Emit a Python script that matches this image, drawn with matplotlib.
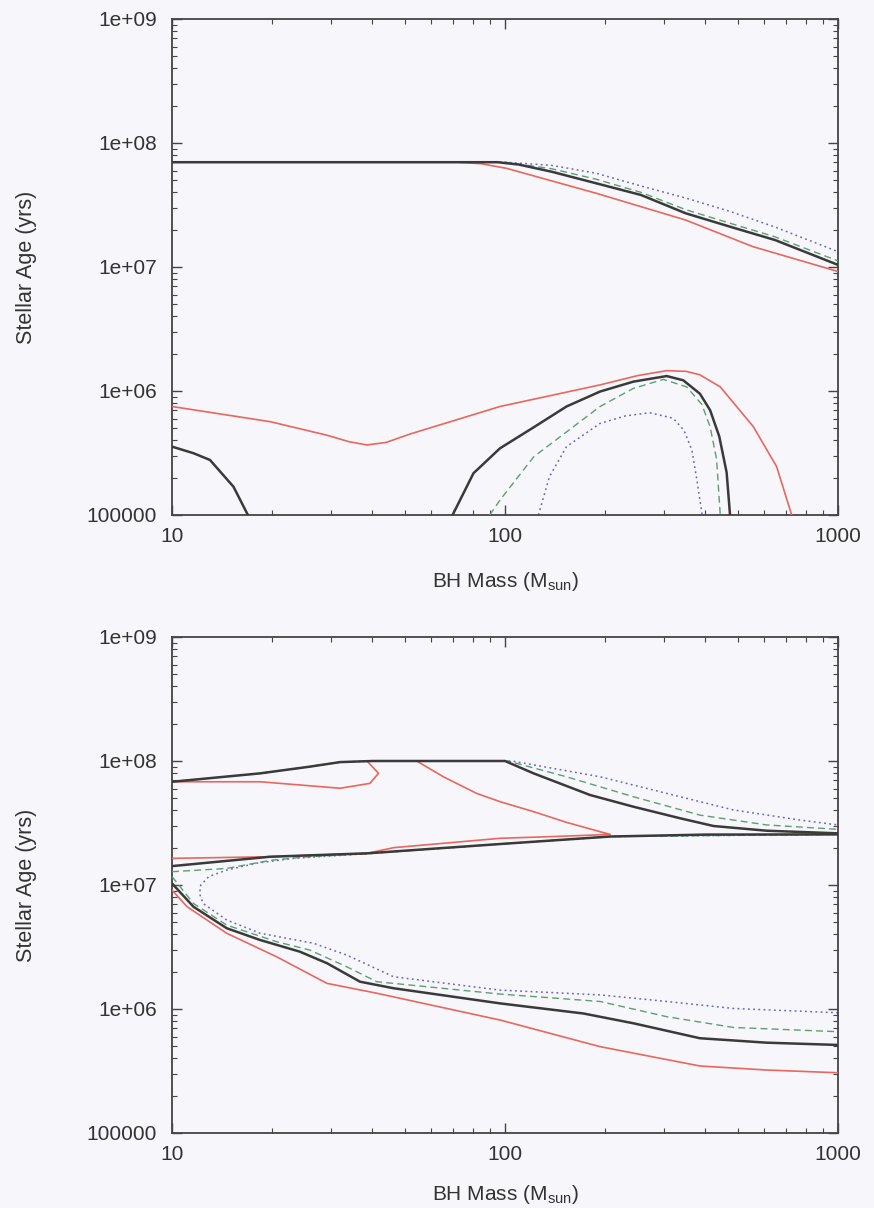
import matplotlib
matplotlib.use("Agg")
import matplotlib.pyplot as plt
from matplotlib.ticker import FixedLocator, FixedFormatter, LogLocator, NullFormatter

plt.rcParams['font.family'] = ['Liberation Sans', 'DejaVu Sans']

# ---------------- data: top panel ----------------
top_black_upper_x = [10, 95, 110, 138, 188, 256, 349, 475, 647, 1000]
top_black_upper_y = [7e7, 7e7, 6.7e7, 5.87e7, 4.73e7, 3.81e7, 2.71e7, 2.11e7, 1.65e7, 1.04e7]
top_red_upper_x = [10, 72, 85, 101, 188, 349, 555, 1000]
top_red_upper_y = [7e7, 7e7, 6.8e7, 6.25e7, 3.93e7, 2.39e7, 1.46e7, 9.2e6]
top_green_upper_x = [10, 100, 138, 188, 256, 349, 475, 647, 1000]
top_green_upper_y = [7e7, 7e7, 6.2e7, 5.1e7, 4.0e7, 2.9e7, 2.25e7, 1.75e7, 1.12e7]
top_blue_upper_x = [10, 100, 138, 188, 256, 349, 475, 647, 1000]
top_blue_upper_y = [7e7, 7e7, 6.6e7, 5.7e7, 4.5e7, 3.6e7, 2.8e7, 2.1e7, 1.33e7]

top_red_lower_x = [10, 19.7, 29.2, 34, 38.5, 44, 51.9, 96.6, 193, 250, 306, 350, 385, 443, 557, 654, 726]
top_red_lower_y = [7.5e5, 5.66e5, 4.4e5, 3.9e5, 3.67e5, 3.85e5, 4.5e5, 7.5e5, 1.12e6, 1.33e6, 1.46e6, 1.44e6, 1.35e6, 1.08e6, 5.15e5, 2.46e5, 1e5]
top_black_left_x = [10, 11.6, 13, 15.3, 16.9]
top_black_left_y = [3.56e5, 3.15e5, 2.78e5, 1.69e5, 1e5]
top_black_arch_x = [69.6, 80.4, 96.6, 122, 153, 193, 243, 306, 343, 385, 413, 440, 463, 474]
top_black_arch_y = [1e5, 2.17e5, 3.45e5, 5.1e5, 7.5e5, 9.9e5, 1.19e6, 1.32e6, 1.22e6, 9.5e5, 7e5, 4.3e5, 2.2e5, 1e5]
top_green_arch_x = [90, 96.6, 122, 193, 243, 299, 351, 390, 413, 432, 443]
top_green_arch_y = [1e5, 1.32e5, 2.95e5, 7.5e5, 1.05e6, 1.24e6, 1.08e6, 7.8e5, 5.15e5, 2.8e5, 1e5]
top_blue_arch_x = [126, 136, 153, 193, 230, 272, 320, 345, 364, 377, 391]
top_blue_arch_y = [1e5, 2.04e5, 3.56e5, 5.48e5, 6.3e5, 6.68e5, 6.03e5, 4.8e5, 3.34e5, 1.91e5, 1e5]

# ---------------- data: bottom panel ----------------
bot_black_top_x = [10, 18.4, 25.9, 32, 40, 100, 122, 180, 243, 336, 423, 611, 1000]
bot_black_top_y = [6.8e7, 7.95e7, 9e7, 9.8e7, 1e8, 1e8, 7.94e7, 5.32e7, 4.28e7, 3.45e7, 2.99e7, 2.74e7, 2.61e7]
bot_green_top_x = [10, 18.4, 25.9, 32, 40, 102, 153, 243, 385, 611, 1000]
bot_green_top_y = [6.8e7, 7.95e7, 9e7, 9.8e7, 1e8, 1e8, 7.46e7, 5.15e7, 3.66e7, 3.05e7, 2.81e7]
bot_blue_top_x = [10, 18.4, 25.9, 32, 40, 105, 122, 193, 306, 485, 769, 1000]
bot_blue_top_y = [6.8e7, 7.95e7, 9e7, 9.8e7, 1e8, 1e8, 9.3e7, 7.46e7, 5.48e7, 4.03e7, 3.34e7, 3.05e7]

bot_black_mid_x = [10, 19.7, 38.5, 96.6, 207, 400, 1000]
bot_black_mid_y = [1.42e7, 1.69e7, 1.8e7, 2.14e7, 2.46e7, 2.55e7, 2.56e7]
bot_green_mid_x = [10, 14.6, 19.7, 25, 40, 96.6, 207, 1000]
bot_green_mid_y = [1.28e7, 1.36e7, 1.58e7, 1.68e7, 1.8e7, 2.14e7, 2.46e7, 2.56e7]

bot_blue_loop_x = [1000, 485, 306, 193, 96.6, 46.3, 33.5, 26.6, 18.4, 14.6, 12.4, 12.1, 12.2, 12.9, 14.6, 18, 23.1, 40, 96.6, 207, 1000]
bot_blue_loop_y = [9.33e5, 1.01e6, 1.15e6, 1.3e6, 1.42e6, 1.82e6, 2.72e6, 3.39e6, 4.08e6, 5.22e6, 7.1e6, 8.5e6, 1.0e7, 1.17e7, 1.32e7, 1.5e7, 1.64e7, 1.8e7, 2.14e7, 2.46e7, 2.56e7]

bot_green_lower_x = [10, 11.6, 14.6, 20.6, 25.9, 33.5, 41.2, 96.6, 193, 306, 485, 1000]
bot_green_lower_y = [1.17e7, 7.1e6, 4.75e6, 3.49e6, 2.99e6, 2.19e6, 1.66e6, 1.32e6, 1.15e6, 8.67e5, 7.1e5, 6.56e5]
bot_black_lower_x = [10, 11.6, 14.6, 18.4, 24.2, 29.2, 36.7, 46.3, 96.6, 172, 243, 385, 611, 1000]
bot_black_lower_y = [1.03e7, 6.68e6, 4.48e6, 3.6e6, 2.9e6, 2.34e6, 1.66e6, 1.47e6, 1.11e6, 9.2e5, 7.67e5, 5.81e5, 5.35e5, 5.13e5]
bot_red_lower_x = [10, 11.1, 14.6, 20.6, 29.2, 41.2, 96.6, 193, 385, 611, 1000]
bot_red_lower_y = [9.1e6, 6.68e6, 4.08e6, 2.64e6, 1.61e6, 1.34e6, 8.15e5, 4.97e5, 3.47e5, 3.22e5, 3.06e5]

bot_red_upper_x = [10, 19.7, 38.5, 46.3, 96.6, 153, 207, 193, 153, 122, 96.6, 82.2, 65.3, 54.3, 38.5, 41.7, 39.3, 32, 18.4, 10]
bot_red_upper_y = [1.64e7, 1.69e7, 1.8e7, 2.0e7, 2.38e7, 2.48e7, 2.56e7, 2.69e7, 3.2e7, 3.9e7, 4.7e7, 5.48e7, 7.46e7, 1e8, 1e8, 7.95e7, 6.6e7, 6.03e7, 6.8e7, 6.8e7]

# ---------------- axis text ----------------
x_ticks = [10, 100, 1000]
x_tick_labels = ["10", "100", "1000"]
y_ticks = [1e5, 1e6, 1e7, 1e8, 1e9]
y_tick_labels = ["100000", "1e+06", "1e+07", "1e+08", "1e+09"]
x_label = "BH Mass (M$_{\\mathregular{sun}}$)"
y_label = "Stellar Age (yrs)"

BG = '#f6f6fb'
C_BLACK = '#3a3a3a'
C_RED = '#e8675e'
C_GREEN = '#5e9e72'
C_BLUE = '#6666c0'
TXT = '#333333'

fig = plt.figure(figsize=(8.74, 12.08), dpi=100, facecolor=BG)
ax1 = fig.add_axes([172/874, 1-515/1208, 666/874, 496/1208])
ax2 = fig.add_axes([172/874, 1-1133/1208, 666/874, 496/1208])


def style(ax, xlabel_y):
    ax.set_facecolor(BG)
    ax.set_xscale('log')
    ax.set_yscale('log')
    ax.set_xlim(10, 1000)
    ax.set_ylim(1e5, 1e9)
    ax.xaxis.set_major_locator(FixedLocator(x_ticks))
    ax.xaxis.set_major_formatter(FixedFormatter(x_tick_labels))
    ax.yaxis.set_major_locator(FixedLocator(y_ticks))
    ax.yaxis.set_major_formatter(FixedFormatter(y_tick_labels))
    ax.xaxis.set_minor_locator(LogLocator(base=10, subs=range(2, 10)))
    ax.yaxis.set_minor_locator(LogLocator(base=10, subs=range(2, 10)))
    ax.xaxis.set_minor_formatter(NullFormatter())
    ax.yaxis.set_minor_formatter(NullFormatter())
    ax.tick_params(which='both', direction='in', top=True, right=True,
                   color='#444444', labelcolor=TXT, labelsize=15)
    ax.tick_params(which='major', length=7, width=1.0)
    ax.tick_params(which='minor', length=3.5, width=0.8)
    ax.tick_params(axis='y', which='major', pad=11)
    ax.tick_params(axis='x', which='major', pad=9)
    for s in ax.spines.values():
        s.set_color('#444444')
        s.set_linewidth(1.3)
    ax.set_xlabel(x_label, fontsize=15, color=TXT)
    ax.set_ylabel(y_label, fontsize=15.5, color=TXT)
    ax.xaxis.set_label_coords(0.5, xlabel_y)
    ax.yaxis.set_label_coords(-0.203, 0.5)


style(ax1, -0.11)
style(ax2, -0.1)

kw_black = dict(color=C_BLACK, lw=1.8, solid_capstyle='round', solid_joinstyle='round', zorder=6)
kw_red = dict(color=C_RED, lw=1.2, solid_joinstyle='round', zorder=5)
kw_green = dict(color=C_GREEN, lw=1.0, ls=(0, (5, 3)), zorder=3)
kw_blue = dict(color=C_BLUE, lw=1.1, ls=(0, (1.2, 2.2)), zorder=2)

# top panel
ax1.plot(top_blue_upper_x, top_blue_upper_y, **kw_blue)
ax1.plot(top_green_upper_x, top_green_upper_y, **kw_green)
ax1.plot(top_red_upper_x, top_red_upper_y, **kw_red)
ax1.plot(top_black_upper_x, top_black_upper_y, **kw_black)
ax1.plot(top_red_lower_x, top_red_lower_y, **kw_red)
ax1.plot(top_black_left_x, top_black_left_y, **kw_black)
ax1.plot(top_black_arch_x, top_black_arch_y, **kw_black)
ax1.plot(top_green_arch_x, top_green_arch_y, **kw_green)
ax1.plot(top_blue_arch_x, top_blue_arch_y, **kw_blue)

# bottom panel
ax2.plot(bot_blue_top_x, bot_blue_top_y, **kw_blue)
ax2.plot(bot_green_top_x, bot_green_top_y, **kw_green)
ax2.plot(bot_red_upper_x, bot_red_upper_y, **kw_red)
ax2.plot(bot_black_top_x, bot_black_top_y, **kw_black)
ax2.plot(bot_black_mid_x, bot_black_mid_y, **kw_black)
ax2.plot(bot_green_mid_x, bot_green_mid_y, **kw_green)
ax2.plot(bot_blue_loop_x, bot_blue_loop_y, **kw_blue)
ax2.plot(bot_green_lower_x, bot_green_lower_y, **kw_green)
ax2.plot(bot_black_lower_x, bot_black_lower_y, **kw_black)
ax2.plot(bot_red_lower_x, bot_red_lower_y, **kw_red)

fig.savefig('out.png', dpi=100, facecolor=BG)
